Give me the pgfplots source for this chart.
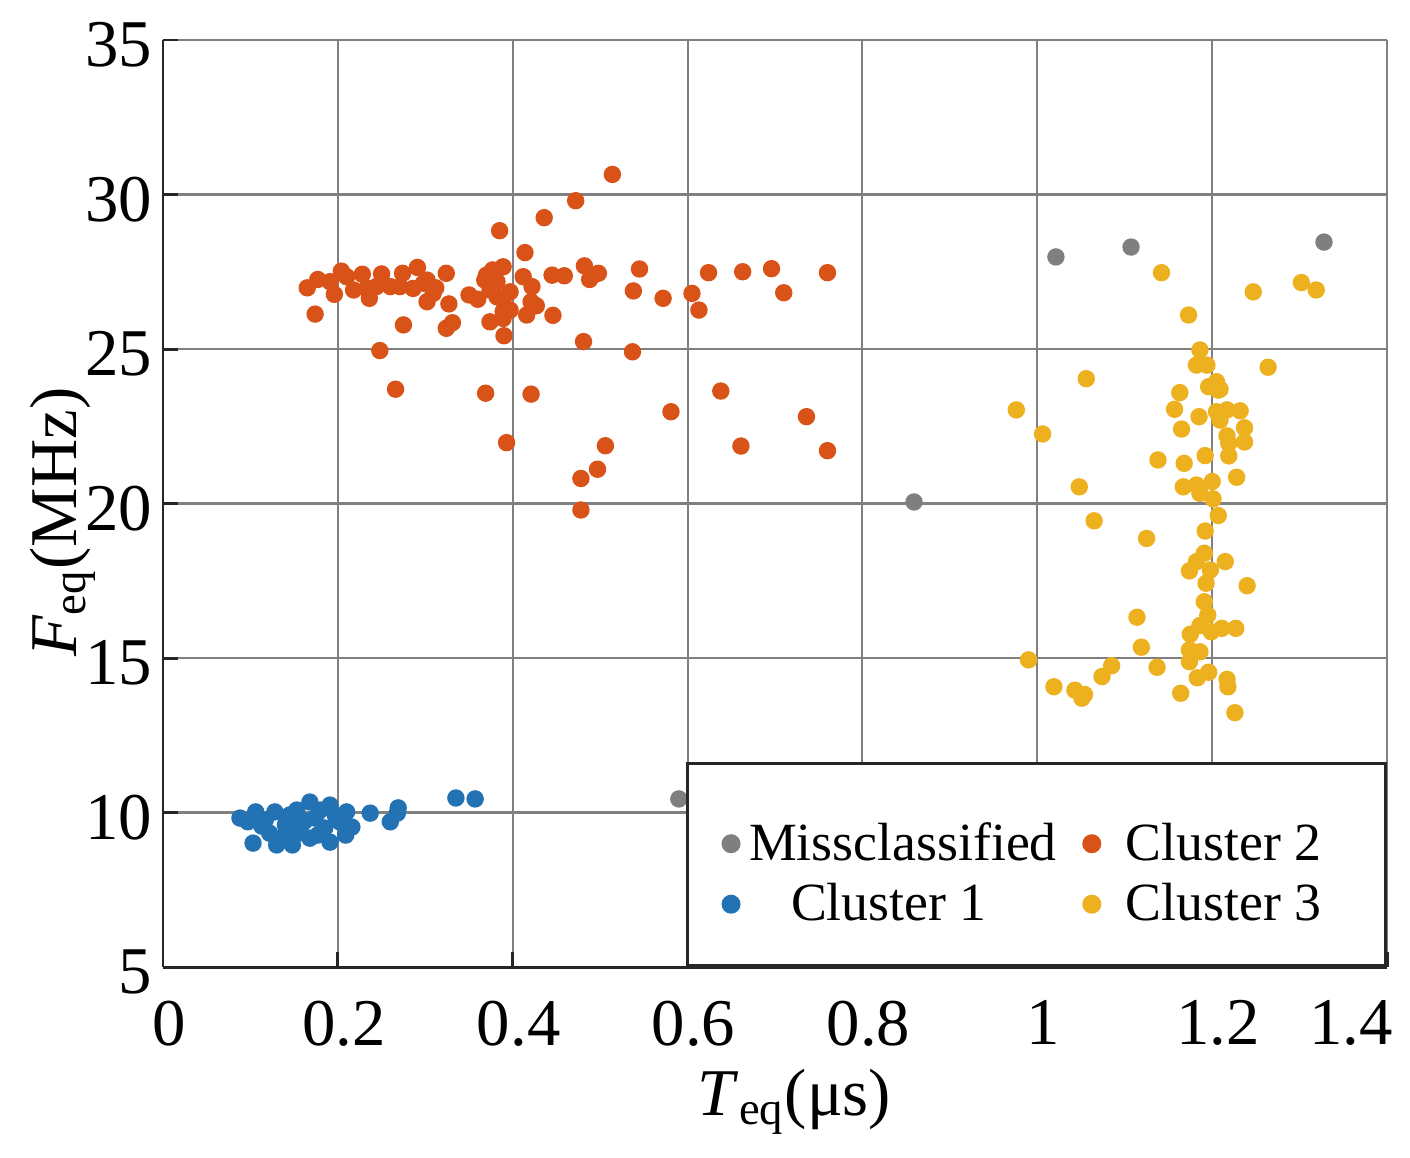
\documentclass[border=0pt]{standalone}
\usepackage{pgfplots}
\pgfplotsset{compat=1.18}
\usepackage{fontspec}
\setmainfont{Liberation Serif}
\definecolor{cgray}{HTML}{7F7F7F}
\definecolor{cblue}{HTML}{2272B4}
\definecolor{corange}{HTML}{D95319}
\definecolor{cyellow}{HTML}{EDB120}
\begin{document}
\begin{tikzpicture}
\begin{axis}[
  scale only axis, width=122.4mm, height=92.7mm,
  xmin=0, xmax=1.4, ymin=5, ymax=35,
  xtick={0,0.2,0.4,0.6,0.8,1,1.2,1.4},
  xticklabels={0,0.2,0.4,0.6,0.8,1,1.2,\makebox[0pt][r]{1.4}},
  ytick={5,10,15,20,25,30,35},
  axis x line=bottom, axis y line=left,
  axis line style={-, line width=0.85pt, color=black!85},
  tick align=inside, major tick length=1.5mm,
  tick style={line width=0.85pt, color=black!85},
  grid=major, major grid style={line width=0.6pt, color=black!50},
  /pgf/number format/assume math mode=true,
  tick label style={font=\fontsize{19}{22}\selectfont},
  xticklabel style={inner sep=0pt, anchor=north, yshift=-3.3mm, xshift=0.6mm},
  yticklabel style={inner sep=0pt, anchor=east, xshift=-1mm, yshift=-0.5mm},
  label style={font=\fontsize{19}{22}\selectfont},
  xlabel={\textit{T}\textsubscript{eq}(μs)},
  ylabel={\textit{F}\textsubscript{eq}(MHz)},
  xlabel style={at={(axis description cs:0.516,-0.1456)}, anchor=center},
  ylabel style={at={(axis description cs:-0.0817,0.48)}, anchor=center},
  legend image code/.code={\draw plot coordinates {(0cm,0cm)};},
  legend columns=2, transpose legend,
  legend cell align=center,
  legend style={at={(axis cs:1.4,5)}, anchor=south east, draw=black!85,
    line width=0.85pt, fill=white, inner xsep=3.6mm, inner ysep=3.3mm,
    font=\fontsize{15.3}{18}\selectfont, row sep=0.3mm,
    /tikz/every odd column/.append style={column sep=0.3mm},
    /tikz/every even column/.append style={column sep=2mm}},
]
\addplot[only marks, mark=*, mark size=0.8mm, color=cgray,
  legend image code/.code={\draw plot coordinates {(0cm,-0.9mm)};}] table {
1.0213 27.98
1.1072 28.30
1.3279 28.46
0.859 20.05
0.590 10.44
};
\addlegendentry{\rule{0pt}{5.7mm}Missclassified}
\addplot[only marks, mark=*, mark size=0.8mm, color=cblue] table {
0.088 9.82
0.106 10.02
0.103 9.01
0.130 8.95
0.148 8.95
0.153 10.08
0.168 10.34
0.168 9.17
0.191 10.24
0.191 9.04
0.210 10.02
0.209 9.27
0.237 9.98
0.260 9.70
0.269 10.15
0.268 9.98
0.335 10.47
0.357 10.44
0.117 9.76
0.128 10.02
0.140 9.60
0.122 9.33
0.113 9.56
0.145 9.92
0.157 9.50
0.174 9.82
0.180 10.08
0.185 9.50
0.202 9.70
0.134 9.17
0.162 9.72
0.197 9.92
0.097 9.70
0.151 9.27
0.177 9.27
0.216 9.53
};
\addlegendentry{Cluster 1\hspace*{2.8mm}}
\addplot[only marks, mark=*, mark size=0.8mm, color=corange,
  legend image code/.code={\draw plot coordinates {(0cm,-0.9mm)};}] table {
0.514 30.65
0.472 29.80
0.436 29.25
0.385 28.83
0.414 28.12
0.482 27.69
0.498 27.45
0.488 27.25
0.545 27.59
0.538 26.88
0.572 26.64
0.481 25.24
0.537 24.91
0.248 24.95
0.174 26.13
0.275 25.78
0.324 25.67
0.331 25.85
0.374 25.88
0.390 25.43
0.165 26.98
0.177 27.25
0.196 26.77
0.204 27.52
0.218 26.91
0.228 27.42
0.236 26.64
0.250 27.43
0.274 27.45
0.291 27.64
0.302 27.23
0.312 26.98
0.302 26.53
0.324 27.45
0.327 26.46
0.350 26.75
0.360 26.61
0.370 27.39
0.377 27.56
0.389 27.66
0.374 26.91
0.382 26.69
0.397 26.85
0.389 26.21
0.397 26.26
0.412 27.34
0.422 27.02
0.427 26.40
0.416 26.10
0.445 27.39
0.459 27.37
0.446 26.09
0.421 26.53
0.624 27.47
0.663 27.50
0.696 27.60
0.760 27.47
0.605 26.80
0.710 26.82
0.613 26.26
0.369 23.57
0.421 23.54
0.393 21.97
0.506 21.87
0.497 21.11
0.478 20.81
0.478 19.79
0.581 22.97
0.638 23.64
0.661 21.86
0.736 22.81
0.760 21.71
0.266 23.70
0.191 27.18
0.210 27.34
0.260 27.02
0.286 26.96
0.233 26.96
0.244 27.02
0.271 27.02
0.298 27.13
0.309 26.80
0.389 25.99
0.368 27.23
0.382 27.18
0.389 26.59
};
\addlegendentry{\rule{0pt}{5.7mm}\hspace*{1.6mm}Cluster 2\hspace*{2.1mm}}
\addplot[only marks, mark=*, mark size=0.8mm, color=cyellow] table {
1.142 27.47
1.173 26.10
1.247 26.85
1.302 27.15
1.319 26.91
1.264 24.41
1.056 24.04
0.976 23.03
1.006 22.25
1.186 24.97
1.182 24.48
1.194 24.48
1.205 23.94
1.207 23.67
1.196 23.78
1.209 23.70
1.163 23.59
1.157 23.05
1.185 22.81
1.165 22.41
1.205 22.97
1.217 23.03
1.232 23.00
1.209 22.70
1.237 22.45
1.217 22.19
1.237 21.99
1.219 21.95
1.219 21.54
1.192 21.55
1.138 21.41
1.168 21.30
1.228 20.85
1.200 20.71
1.048 20.54
1.167 20.54
1.182 20.60
1.186 20.33
1.201 20.15
1.065 19.44
1.207 19.61
1.192 19.11
1.125 18.87
1.191 18.39
1.182 18.12
1.215 18.12
1.174 17.82
1.198 17.85
1.193 17.42
1.240 17.34
1.191 16.82
1.114 16.32
1.195 16.39
1.186 16.05
1.199 15.85
1.211 15.96
1.227 15.96
1.175 15.77
1.119 15.35
1.174 15.26
1.186 15.20
1.174 14.88
0.990 14.94
1.085 14.75
1.074 14.40
1.137 14.70
1.183 14.36
1.196 14.54
1.217 14.31
1.218 14.07
1.019 14.07
1.043 13.96
1.054 13.82
1.051 13.70
1.164 13.86
1.226 13.23
};
\addlegendentry{\hspace*{1.6mm}Cluster 3\hspace*{2.1mm}}
\end{axis}
\pgfresetboundingbox
\path ([shift={(-16.3mm,-19mm)}]current axis.south west) rectangle ([shift={(2.3mm,4mm)}]current axis.north east);
\end{tikzpicture}
\end{document}
